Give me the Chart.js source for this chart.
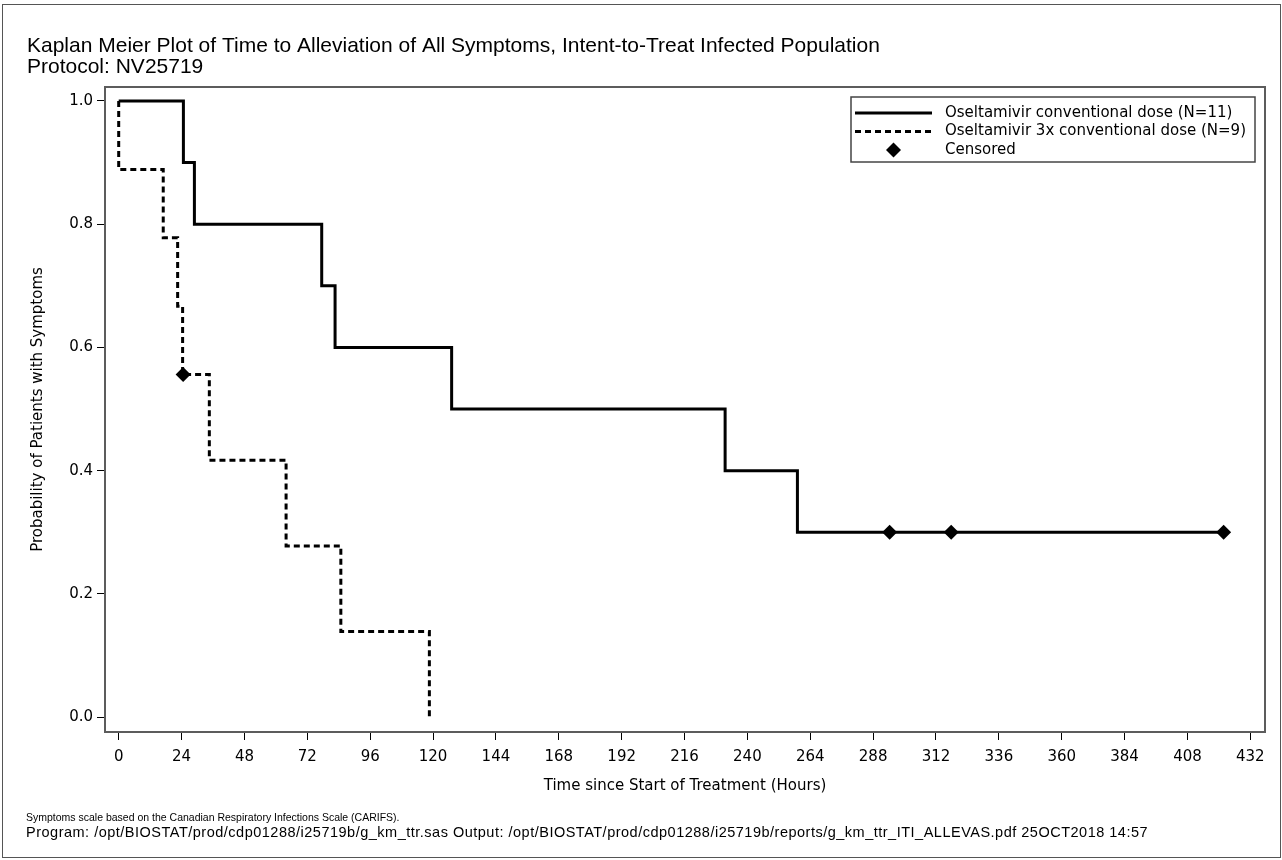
<!DOCTYPE html>
<html>
<head>
<meta charset="utf-8">
<title>Kaplan Meier Plot - NV25719</title>
<script src="https://cdn.jsdelivr.net/npm/chart.js@4.4.1/dist/chart.umd.min.js"></script>
<style>
  html, body { margin: 0; padding: 0; background: #fff; }
  canvas { display: block; }
</style>
</head>
<body>
<canvas id="kmChart" width="1282" height="860"></canvas>
<script>
// KM estimates, hours since start of treatment
var convTimes = [0, 24.7, 28.9, 77.5, 82.6, 127.1, 231.5, 259.1, 421.8];
var convProb  = [1.0, 0.9, 0.8, 0.7, 0.6, 0.5, 0.4, 0.3, 0.3];
var highTimes = [0, 0, 17.0, 22.5, 24.4, 34.6, 63.9, 84.8, 118.6];
var highProb  = [1.0, 0.889, 0.778, 0.667, 0.556, 0.417, 0.278, 0.139, 0.0];
var censorTimes = [24.6, 294.3, 317.8, 421.8];
var censorProb  = [0.556, 0.3, 0.3, 0.3];

var xTicks = [0, 24, 48, 72, 96, 120, 144, 168, 192, 216, 240, 264, 288, 312, 336, 360, 384, 408, 432];
var yTicks = [0.0, 0.2, 0.4, 0.6, 0.8, 1.0];

var seriesLabels = ['Oseltamivir conventional dose (N=11)', 'Oseltamivir 3x conventional dose (N=9)', 'Censored'];
var titleLines = ['Kaplan Meier Plot of Time to Alleviation of All Symptoms, Intent-to-Treat Infected Population', 'Protocol: NV25719'];
var footLines = [
  'Symptoms scale based on the Canadian Respiratory Infections Scale (CARIFS).',
  'Program: /opt/BIOSTAT/prod/cdp01288/i25719b/g_km_ttr.sas Output: /opt/BIOSTAT/prod/cdp01288/i25719b/reports/g_km_ttr_ITI_ALLEVAS.pdf 25OCT2018 14:57'
];

function toPoints(xs, ys) {
  var pts = [];
  for (var i = 0; i < xs.length; i++) pts.push({x: xs[i], y: ys[i]});
  return pts;
}

var axisFont = {family: '"DejaVu Sans", sans-serif', size: 15};

// frame around plot area + whole figure border
var framePlugin = {
  id: 'frame',
  beforeDatasetsDraw: function(chart) {
    var ctx = chart.ctx, a = chart.chartArea;
    ctx.save();
    ctx.strokeStyle = '#5c5c5c';
    ctx.lineWidth = 2;
    ctx.strokeRect(a.left, a.top, a.right - a.left, a.bottom - a.top);
    ctx.lineWidth = 1;
    ctx.strokeStyle = '#555';
    ctx.strokeRect(2.5, 4.5, chart.width - 4, chart.height - 7);
    ctx.restore();
  }
};

// boxed legend in upper right of the plot area
var kmLegend = {
  id: 'kmLegend',
  afterDraw: function(chart) {
    var ctx = chart.ctx;
    var a = chart.chartArea;
    var ds = chart.data.datasets;
    var boxL = 851, boxT = 97, boxR = a.right - 10, boxB = 162;
    var rowY = [113, 131.5, 150];
    ctx.save();
    ctx.fillStyle = '#fff';
    ctx.fillRect(boxL, boxT, boxR - boxL, boxB - boxT);
    ctx.strokeStyle = '#444';
    ctx.lineWidth = 1.5;
    ctx.strokeRect(boxL, boxT, boxR - boxL, boxB - boxT);

    for (var i = 0; i < 2; i++) {
      ctx.beginPath();
      ctx.strokeStyle = ds[i].borderColor;
      ctx.lineWidth = ds[i].borderWidth;
      ctx.setLineDash(ds[i].borderDash || []);
      ctx.moveTo(855, rowY[i]);
      ctx.lineTo(932, rowY[i]);
      ctx.stroke();
    }
    ctx.setLineDash([]);
    Chart.helpers.drawPoint(ctx, {pointStyle: 'rectRot', radius: ds[2].pointRadius, borderWidth: 0}, 893.5, rowY[2]);
    ctx.fillStyle = '#000';
    ctx.fill();

    ctx.font = '15px "DejaVu Sans", sans-serif';
    ctx.fillStyle = '#000';
    ctx.textBaseline = 'middle';
    for (var j = 0; j < 3; j++) {
      ctx.fillText(ds[j].label, 945, rowY[j]);
    }
    ctx.restore();
  }
};

// footnotes under the x axis title
var footnotes = {
  id: 'footnotes',
  afterDraw: function(chart) {
    var ctx = chart.ctx;
    ctx.save();
    ctx.fillStyle = '#000';
    ctx.textBaseline = 'middle';
    ctx.font = '10.5px "Liberation Sans", Arial, sans-serif';
    ctx.fillText(footLines[0], 26, 818);
    ctx.font = '14.5px "Liberation Sans", Arial, sans-serif';
    ctx.letterSpacing = '0.5px';
    ctx.fillText(footLines[1], 26, 833);
    ctx.restore();
  }
};

var config = {
  type: 'line',
  data: {
    datasets: [
      {
        label: seriesLabels[0],
        data: toPoints(convTimes, convProb),
        stepped: 'before',
        borderColor: '#000',
        borderWidth: 3,
        pointRadius: 0,
        fill: false,
        order: 2
      },
      {
        label: seriesLabels[1],
        data: toPoints(highTimes, highProb),
        stepped: 'before',
        borderColor: '#000',
        borderWidth: 3,
        borderDash: [6, 4],
        pointRadius: 0,
        fill: false,
        order: 1
      },
      {
        type: 'scatter',
        label: seriesLabels[2],
        data: toPoints(censorTimes, censorProb),
        showLine: false,
        pointStyle: 'rectRot',
        pointRadius: 7.5,
        pointBorderWidth: 0,
        backgroundColor: '#000',
        borderColor: '#000',
        order: 0
      }
    ]
  },
  options: {
    responsive: false,
    animation: false,
    layout: {padding: {left: 27, right: 17, top: 0, bottom: 53.5}},
    plugins: {
      legend: {display: false},
      tooltip: {enabled: false},
      title: {
        display: true,
        text: titleLines,
        align: 'start',
        color: '#000',
        font: {family: '"Liberation Sans", Arial, sans-serif', size: 21, weight: 'normal', lineHeight: '21px'},
        padding: {top: 35.5, bottom: 9.5}
      }
    },
    scales: {
      x: {
        type: 'linear',
        min: -5.23,
        max: 437.6,
        afterBuildTicks: function(scale) {
          scale.ticks = xTicks.map(function(v) { return {value: v}; });
        },
        afterFit: function(scale) { scale.height = 74.5; },
        border: {display: false},
        grid: {drawOnChartArea: false, drawTicks: true, tickLength: 8, color: '#000'},
        ticks: {color: '#000', font: axisFont, padding: 8, maxRotation: 0, autoSkip: false},
        title: {
          display: true,
          text: 'Time since Start of Treatment (Hours)',
          color: '#000',
          font: axisFont,
          padding: {top: 4, bottom: 11.5}
        }
      },
      y: {
        type: 'linear',
        min: -0.024,
        max: 1.0227,
        afterBuildTicks: function(scale) {
          scale.ticks = yTicks.map(function(v) { return {value: v}; });
        },
        afterFit: function(scale) { scale.width = 78; },
        border: {display: false},
        grid: {drawOnChartArea: false, drawTicks: true, tickLength: 8, color: '#000'},
        ticks: {
          color: '#000',
          font: axisFont,
          padding: 4,
          callback: function(v) { return v.toFixed(1); }
        },
        title: {
          display: true,
          text: 'Probability of Patients with Symptoms',
          color: '#000',
          font: axisFont,
          padding: {top: 2, bottom: 4}
        }
      }
    }
  },
  plugins: [framePlugin, kmLegend, footnotes]
};

var kmChart = new Chart(document.getElementById('kmChart'), config);
</script>
</body>
</html>
